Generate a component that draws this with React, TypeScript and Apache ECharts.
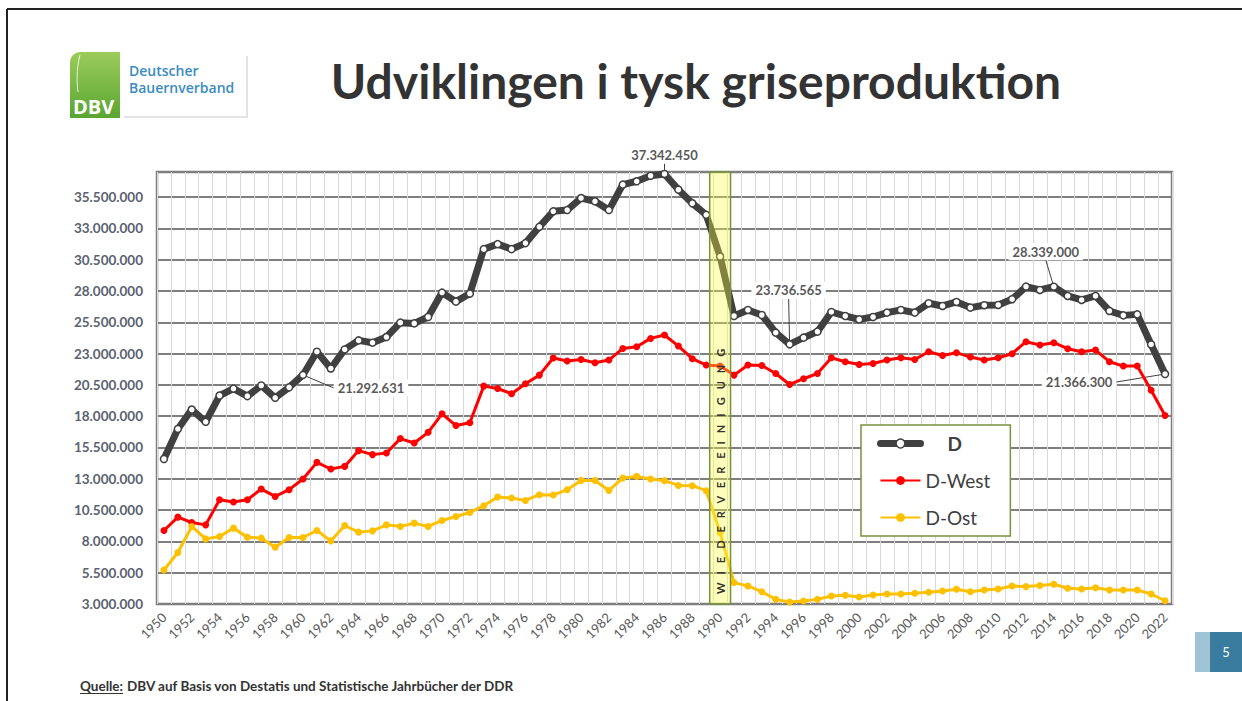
import React, { useEffect, useRef } from "react";
import * as echarts from "echarts";

const years: string[] = [
  "1950","1951","1952","1953","1954","1955","1956","1957","1958","1959",
  "1960","1961","1962","1963","1964","1965","1966","1967","1968","1969",
  "1970","1971","1972","1973","1974","1975","1976","1977","1978","1979",
  "1980","1981","1982","1983","1984","1985","1986","1987","1988","1989",
  "1990","1991","1992","1993","1994","1995","1996","1997","1998","1999",
  "2000","2001","2002","2003","2004","2005","2006","2007","2008","2009",
  "2010","2011","2012","2013","2014","2015","2016","2017","2018","2019",
  "2020","2021","2022",
];

const dTotal: number[] = [
  14580000, 16980000, 18530000, 17550000, 19650000, 20200000, 19600000, 20450000, 19470000, 20300000,
  21292631, 23150000, 21810000, 23330000, 24050000, 23870000, 24320000, 25470000, 25410000, 25920000,
  27870000, 27150000, 27790000, 31340000, 31740000, 31340000, 31820000, 33120000, 34360000, 34460000,
  35420000, 35160000, 34460000, 36490000, 36760000, 37200000, 37342450, 36090000, 35000000, 34080000,
  30750000, 26000000, 26480000, 26080000, 24670000, 23736565, 24270000, 24750000, 26320000, 26000000,
  25730000, 25920000, 26270000, 26480000, 26270000, 27020000, 26800000, 27120000, 26670000, 26860000,
  26880000, 27340000, 28350000, 28080000, 28339000, 27600000, 27280000, 27600000, 26400000, 26050000,
  26130000, 23730000, 21366300,
];

const dWest: number[] = [
  8870000, 9940000, 9510000, 9320000, 11330000, 11140000, 11330000, 12180000, 11590000, 12130000,
  12980000, 14310000, 13780000, 13990000, 15250000, 14930000, 15060000, 16210000, 15860000, 16710000,
  18190000, 17250000, 17470000, 20400000, 20210000, 19790000, 20590000, 21280000, 22640000, 22400000,
  22530000, 22270000, 22480000, 23410000, 23550000, 24210000, 24480000, 23600000, 22590000, 22080000,
  22000000, 21280000, 22080000, 22050000, 21410000, 20530000, 20990000, 21410000, 22670000, 22350000,
  22130000, 22210000, 22480000, 22670000, 22530000, 23150000, 22850000, 23070000, 22720000, 22480000,
  22670000, 22990000, 23950000, 23680000, 23870000, 23390000, 23150000, 23280000, 22350000, 22000000,
  22000000, 20070000, 18050000,
];

const dOst: number[] = [
  5720000, 7110000, 9190000, 8200000, 8390000, 9060000, 8340000, 8260000, 7540000, 8310000,
  8310000, 8870000, 8040000, 9270000, 8740000, 8840000, 9320000, 9190000, 9460000, 9190000,
  9670000, 9990000, 10310000, 10850000, 11540000, 11460000, 11270000, 11730000, 11700000, 12130000,
  12870000, 12870000, 12070000, 13060000, 13190000, 12980000, 12850000, 12470000, 12450000, 12050000,
  8700000, 4710000, 4440000, 3980000, 3370000, 3160000, 3240000, 3370000, 3640000, 3700000,
  3560000, 3720000, 3800000, 3800000, 3860000, 3940000, 4040000, 4180000, 3980000, 4120000,
  4200000, 4440000, 4390000, 4470000, 4580000, 4260000, 4200000, 4300000, 4120000, 4120000,
  4120000, 3800000, 3260000,
];

const yTicks: number[] = [
  3000000, 5500000, 8000000, 10500000, 13000000, 15500000, 18000000,
  20500000, 23000000, 25500000, 28000000, 30500000, 33000000, 35500000,
];
const yMin = 3000000;
const yMax = 37500000;

const annotatedYears: string[] = ["1960", "1986", "1995", "2014", "2022"];
const bandYear = "1990";
const bandLabel = "W   I   E   D   E   R   V   E   R   E   I   N   I   G   U   N   G";

const titleText = "Udviklingen i tysk griseproduktion";
const sourceLabel = "Quelle:";
const sourceText = "DBV auf Basis von Destatis und Statistische Jahrbücher der DDR";

function fmt(v: number): string {
  const s = Math.round(v).toString();
  return s.replace(/\B(?=(\d{3})+(?!\d))/g, ".");
}

// label offsets (style) for the annotated points, by year
const labelOffsets: Record<string, [number, number]> = {
  "1960": [68, 13],
  "1986": [0, -19],
  "1995": [-1, -54],
  "2014": [-8, -35],
  "2022": [-86, 8],
};

export default function App() {
  const ref = useRef<HTMLDivElement>(null);

  useEffect(() => {
    if (!ref.current) return;
    const chart = echarts.init(ref.current, undefined, { renderer: "svg" });
    const FONT = "Lato";

    const dData = dTotal.map((v, i) => {
      if (annotatedYears.includes(years[i])) {
        return {
          value: v,
          label: {
            show: true,
            position: "inside",
            formatter: (p: any) => fmt(p.value),
            color: "#595959",
            fontSize: 13,
            fontWeight: "bold",
            fontFamily: FONT,
            backgroundColor: "#ffffff",
            padding: [2, 4],
          },
          labelLine: { show: true, lineStyle: { color: "#404040", width: 1 } },
        };
      }
      return v;
    });

    const option: any = {
      animation: false,
      textStyle: { fontFamily: FONT },
      grid: {
        left: 157,
        right: 70,
        top: 172,
        bottom: 97,
        show: true,
        borderColor: "#7f7f7f",
        borderWidth: 2.5,
        backgroundColor: "transparent",
      },
      legend: {
        data: [
          {
            name: "D",
            textStyle: { fontWeight: "bold", padding: [0, 0, 0, 22] },
            lineStyle: { width: 7, color: "#404040", cap: "round" },
            itemStyle: { color: "#ffffff", borderColor: "#404040", borderWidth: 1.5 },
          },
          "D-West",
          "D-Ost",
        ],
        orient: "vertical",
        left: 861,
        top: 425,
        itemWidth: 40,
        itemHeight: 11,
        itemGap: 18,
        padding: [9, 20, 9, 16],
        backgroundColor: "#ffffff",
        borderColor: "#77933c",
        borderWidth: 1.5,
        textStyle: { fontSize: 19, color: "#404040", fontFamily: FONT },
        selectedMode: false,
      },
      xAxis: {
        type: "category",
        data: years,
        boundaryGap: true,
        axisLine: { show: false },
        axisTick: { show: false },
        axisLabel: {
          interval: 1,
          rotate: 45,
          color: "#595959",
          fontSize: 13,
          margin: 11,
        },
        splitLine: {
          show: true,
          interval: 0,
          lineStyle: { color: "#d9d9d9", width: 1 },
        },
      },
      yAxis: {
        type: "value",
        min: yMin,
        max: yMax,
        axisLine: { show: false },
        axisTick: { show: false, customValues: yTicks },
        axisLabel: {
          customValues: yTicks,
          formatter: (v: number) => fmt(v),
          color: "#5a6270",
          fontSize: 13.5,
          fontWeight: "bold",
          margin: 14,
        },
        splitLine: { show: true, lineStyle: { color: "#7f7f7f", width: 2 } },
      },
      series: [
        {
          name: "D",
          type: "line",
          data: dData,
          z: 3,
          symbol: "circle",
          symbolSize: 7,
          lineStyle: { color: "#404040", width: 7 },
          itemStyle: { color: "#ffffff", borderColor: "#404040", borderWidth: 1.5 },
          labelLayout: (params: any) => {
            const y = years[params.dataIndex];
            const off = labelOffsets[y];
            if (!off) return {};
            return { dx: off[0], dy: off[1] };
          },
        },
        {
          name: "D-West",
          type: "line",
          data: dWest,
          z: 4,
          symbol: "circle",
          symbolSize: 7,
          lineStyle: { color: "#ff0000", width: 3 },
          itemStyle: { color: "#ff0000" },
        },
        {
          name: "D-Ost",
          type: "line",
          data: dOst,
          z: 4,
          symbol: "circle",
          symbolSize: 7,
          lineStyle: { color: "#ffc000", width: 3 },
          itemStyle: { color: "#ffc000" },
        },
        {
          name: "band",
          type: "custom",
          silent: true,
          z: 10,
          data: [[bandYear, yMin]],
          encode: { x: 0, y: 1 },
          renderItem: (params: any, api: any) => {
            const c = api.coord([api.value(0), api.value(1)]);
            const w = api.size([1, 0])[0] * 1.5;
            const cs = params.coordSys;
            return {
              type: "group",
              children: [
                {
                  type: "rect",
                  shape: { x: c[0] - w / 2, y: cs.y, width: w, height: cs.height },
                  style: {
                    fill: "rgba(255,255,60,0.35)",
                    stroke: "#76923c",
                    lineWidth: 1.5,
                  },
                },
                {
                  type: "text",
                  x: c[0],
                  y: cs.y + cs.height - 10,
                  rotation: Math.PI / 2,
                  style: {
                    text: bandLabel,
                    fill: "#333333",
                    font: "bold 11px Lato",
                    align: "left",
                    verticalAlign: "middle",
                  },
                },
              ],
            };
          },
        },
      ],
      graphic: [
        // page frame
        { type: "line", shape: { x1: 7, y1: 9, x2: 1242, y2: 9 }, style: { stroke: "#222", lineWidth: 2 } },
        { type: "line", shape: { x1: 7, y1: 9, x2: 7, y2: 701 }, style: { stroke: "#222", lineWidth: 2 } },
        // logo shadow frame
        { type: "polyline", shape: { points: [[247, 56], [247, 117], [124, 117]] }, style: { stroke: "#e3e3e3", lineWidth: 2, fill: "none" } },
        // logo green block
        {
          type: "rect",
          shape: { x: 70, y: 52, width: 50, height: 66, r: [10, 0, 0, 0] },
          style: {
            fill: new echarts.graphic.LinearGradient(0, 0, 0, 1, [
              { offset: 0, color: "#9ccc5a" },
              { offset: 1, color: "#5aa532" },
            ]),
          },
        },
        { type: "bezierCurve", shape: { x1: 80, y1: 55, cpx1: 76, cpy1: 70, cpx2: 77, cpy2: 85, x2: 78, y2: 92 }, style: { stroke: "rgba(255,255,255,0.8)", lineWidth: 1, fill: "none" } },
        { type: "text", x: 73, y: 106, style: { text: "DBV", fill: "#ffffff", font: "bold 20px 'Open Sans'", verticalAlign: "middle" } },
        { type: "text", x: 129, y: 70, style: { text: "Deutscher", fill: "#3a8cc0", font: "600 14px 'Open Sans'", verticalAlign: "middle" } },
        { type: "text", x: 129, y: 87, style: { text: "Bauernverband", fill: "#3a8cc0", font: "600 14px 'Open Sans'", verticalAlign: "middle" } },
        // title
        { type: "text", x: 696, y: 80, style: { text: titleText, fill: "#333333", font: "bold 48px Lato", align: "center", verticalAlign: "middle" } },
        // source
        { type: "text", x: 80, y: 686, style: { text: sourceLabel, fill: "#333333", font: "bold 13.5px Lato", verticalAlign: "middle" } },
        { type: "line", shape: { x1: 80, y1: 693.5, x2: 123, y2: 693.5 }, style: { stroke: "#333333", lineWidth: 1 } },
        { type: "text", x: 127, y: 686, style: { text: sourceText, fill: "#333333", font: "bold 13.5px Lato", verticalAlign: "middle" } },
        // page number
        { type: "rect", shape: { x: 1195, y: 632, width: 15, height: 40 }, style: { fill: "#9fc3d5" } },
        { type: "rect", shape: { x: 1210, y: 632, width: 32, height: 40 }, style: { fill: "#3a7ba0" } },
        { type: "text", x: 1226, y: 652, style: { text: "5", fill: "#ffffff", font: "13px Lato", align: "center", verticalAlign: "middle" } },
      ],
    };

    chart.setOption(option);
    return () => chart.dispose();
  }, []);

  return (
    <div
      ref={ref}
      style={{ position: "fixed", left: 0, top: 0, width: 1242, height: 701, background: "#ffffff" }}
    />
  );
}
